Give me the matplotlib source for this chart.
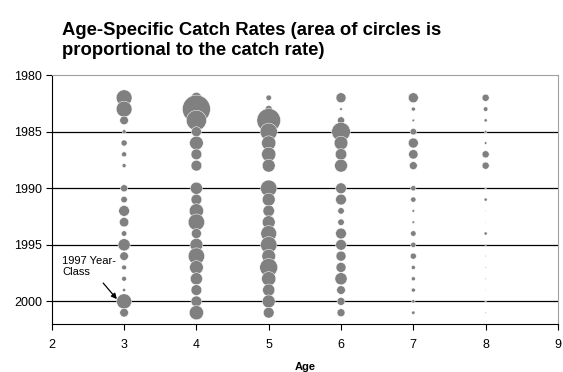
import matplotlib

matplotlib.use("Agg")
import matplotlib.pyplot as plt
import numpy as np

plt.rcParams["font.family"] = ["Liberation Sans", "DejaVu Sans"]

# survey years (no data in 1989)
years = [1982, 1983, 1984, 1985, 1986, 1987, 1988,
         1990, 1991, 1992, 1993, 1994, 1995, 1996, 1997, 1998, 1999, 2000, 2001]
ages = [3, 4, 5, 6, 7, 8]

# catch rates per age, one value per year above
rate_age3 = [10.8, 10.8, 3.2, 0.7, 1.6, 1.1, 0.7,
             2.2, 1.8, 5.0, 3.8, 1.3, 6.4, 3.2, 1.0, 1.0, 0.45, 9.8, 3.2]
rate_age4 = [5.0, 33.8, 17.5, 4.3, 8.1, 5.0, 5.0,
             6.4, 5.0, 8.8, 11.7, 4.3, 7.2, 11.7, 8.1, 6.4, 5.0, 5.0, 8.8]
rate_age5 = [1.3, 2.2, 24.2, 12.8, 8.8, 8.8, 7.2,
             11.7, 7.2, 5.7, 7.2, 10.8, 11.7, 8.1, 13.9, 8.8, 6.4, 7.2, 5.0]
rate_age6 = [4.3, 0.3, 2.2, 15.0, 8.1, 5.7, 7.2,
             5.0, 5.0, 1.8, 1.8, 5.0, 5.0, 4.3, 4.3, 6.4, 3.2, 2.7, 2.7]
rate_age7 = [4.3, 0.7, 0.3, 1.8, 4.3, 3.8, 2.7,
             1.2, 1.2, 0.3, 0.3, 1.3, 1.2, 1.6, 0.7, 0.7, 0.7, 0.5, 0.5]
rate_age8 = [2.2, 0.9, 0.45, 0.3, 0.3, 2.2, 2.2,
             0.1, 0.45, 0.03, 0.03, 0.45, 0.1, 0.06, 0.06, 0.06, 0.02, 0.1, 0.06]

rates = [rate_age3, rate_age4, rate_age5, rate_age6, rate_age7, rate_age8]

x_ticks = [2, 3, 4, 5, 6, 7, 8, 9]
y_ticks = [1980, 1985, 1990, 1995, 2000]

fig = plt.figure(figsize=(5.63, 3.72), dpi=100)
ax = fig.add_axes([0.092, 0.129, 0.899, 0.669])

# area proportional to catch rate
size_per_rate = 12.0
for age, age_rates in zip(ages, rates):
    ax.scatter(
        np.full(len(years), age),
        years,
        s=np.array(age_rates) * size_per_rate,
        color="#808080",
        edgecolors="white",
        linewidths=0.35,
        zorder=3,
        clip_on=False,
    )

for y_value in y_ticks[1:]:
    ax.axhline(y_value, color="black", linewidth=0.9, zorder=1)

ax.set_xlim(2, 9)
ax.set_ylim(2002, 1980)
ax.set_xticks(x_ticks)
ax.set_yticks(y_ticks)
ax.tick_params(axis="both", labelsize=9, length=4, width=0.8, color="black")
ax.tick_params(axis="x", pad=7)
ax.tick_params(axis="y", pad=3)
ax.set_xlabel("Age", fontsize=8, fontweight="bold", labelpad=8)

for side in ("top", "right"):
    ax.spines[side].set_color("#a0a0a0")
    ax.spines[side].set_linewidth(0.8)
for side in ("left", "bottom"):
    ax.spines[side].set_color("black")
    ax.spines[side].set_linewidth(0.8)

ax.annotate(
    "1997 Year-\nClass",
    xy=(2.9, 1999.8),
    xytext=(2.14, 1996.9),
    fontsize=8,
    ha="left",
    va="center",
    linespacing=1.2,
    arrowprops=dict(arrowstyle="-|>", lw=0.9, color="black", mutation_scale=8,
                    shrinkA=3, shrinkB=0),
)

fig.text(
    0.11,
    0.94,
    "Age-Specific Catch Rates (area of circles is\nproportional to the catch rate)",
    fontsize=13.3,
    fontweight="bold",
    ha="left",
    va="top",
    linespacing=1.2,
)

fig.savefig("out.png", dpi=100)
